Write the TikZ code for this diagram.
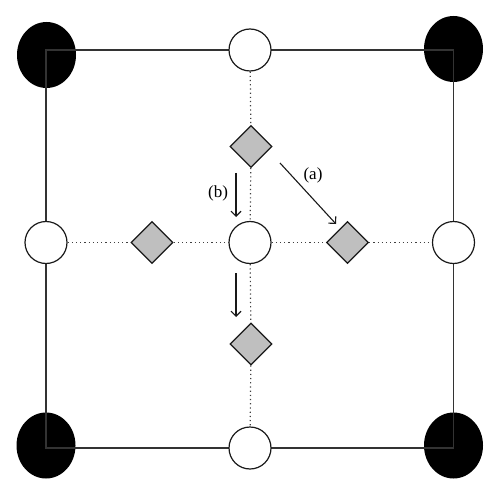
\documentclass[tikz,border=0pt]{standalone}
\usepackage{fontspec}
\setmainfont{Liberation Serif}
\usetikzlibrary{shapes.geometric,arrows.meta}
\begin{document}
\begin{tikzpicture}[x=1pt,y=1pt,
  edge/.style={draw=black!80,line width=1.2pt},
  blackdot/.style={ellipse,fill=black,draw=none,minimum width=59pt,minimum height=66pt,inner sep=0pt},
  site/.style={circle,draw=black!90,fill=white,line width=1.2pt,minimum size=42pt,inner sep=0pt},
  gem/.style={diamond,draw=black!90,fill=black!25,line width=1.2pt,minimum width=42pt,minimum height=42pt,inner sep=0pt},
  dots/.style={draw=black!75,line width=1.2pt,dash pattern=on 1.2pt off 3pt},
  move/.style={draw=black!90,line width=1.1pt,-{Straight Barb[length=5pt,width=10pt]}},
  lbl/.style={font=\fontsize{17}{19}\selectfont,inner sep=0pt}]
\useasboundingbox (0,0) rectangle (500,496);
% corner ellipses
\node[blackdot] (tl) at (46.5,441) {};
\node[blackdot] (tr) at (453.5,447) {};
\node[blackdot] (bl) at (46,50.5) {};
\node[blackdot] (br) at (453.5,50.5) {};
% square corners
\coordinate (ctl) at (46,446);
\coordinate (ctr) at (453.5,446);
\coordinate (cbl) at (46,48);
\coordinate (cbr) at (453.5,48);
\draw[edge] (ctl) -- (ctr) -- (cbr) -- (cbl) -- cycle;
% circles
\node[site] (ct) at (250,446) {};
\node[site] (cl) at (46,253.5) {};
\node[site] (cc) at (250,253.5) {};
\node[site] (cr) at (453.5,253.5) {};
\node[site] (cb) at (250,48) {};
% diamonds
\node[gem] (dt) at (251,349.5) {};
\node[gem] (dl) at (152,253.5) {};
\node[gem] (dr) at (347.5,253.5) {};
\node[gem] (db) at (251,152) {};
% dotted links
\draw[dots] (ct) -- (dt);
\draw[dots] (dt) -- (cc);
\draw[dots] (cc) -- (db);
\draw[dots] (db) -- (cb);
\draw[dots] (cl) -- (dl);
\draw[dots] (dl) -- (cc);
\draw[dots] (cc) -- (dr);
\draw[dots] (dr) -- (cr);
% arrows
\coordinate (bs) at (236,323);
\coordinate (be) at (236,279);
\coordinate (ls) at (236,223);
\coordinate (le) at (236,179);
\coordinate (as) at (280,333);
\coordinate (ae) at (336,272);
\draw[move] (bs) -- (be);
\draw[move] (ls) -- (le);
\draw[move] (as) -- (ae);
\node[lbl] (la) at (313,321) {(a)};
\node[lbl] (lb) at (218,303) {(b)};
\end{tikzpicture}
\end{document}
